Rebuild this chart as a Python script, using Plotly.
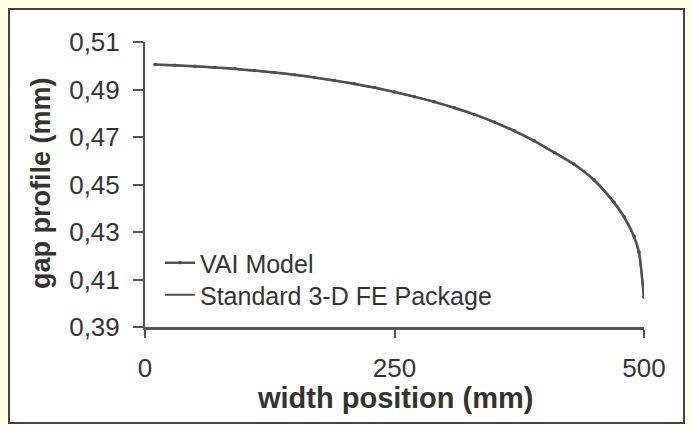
import plotly.graph_objects as go

# Data
width_vai = [10, 30, 50, 70, 90, 110, 130, 150, 170, 190, 210, 230, 250, 270, 290,
             310, 330, 350, 370, 390, 410, 430, 450, 470, 480, 490, 495, 500]
gap_vai = [0.5005, 0.5002, 0.4998, 0.4993, 0.4987, 0.4980, 0.4972, 0.4962, 0.4951,
           0.4938, 0.4924, 0.4908, 0.4890, 0.4870, 0.4848, 0.4823, 0.4795, 0.4763,
           0.4726, 0.4684, 0.4635, 0.4585, 0.4519, 0.4425, 0.4365, 0.4282, 0.4215, 0.4025]

width_fe = [10, 30, 50, 70, 90, 110, 130, 150, 170, 190, 210, 230, 250, 270, 290,
            310, 330, 350, 370, 390, 410, 430, 450, 470, 480, 490, 495, 500]
gap_fe = [0.5004, 0.5001, 0.4997, 0.4992, 0.4986, 0.4979, 0.4971, 0.4961, 0.4950,
          0.4937, 0.4923, 0.4907, 0.4889, 0.4869, 0.4847, 0.4822, 0.4794, 0.4762,
          0.4725, 0.4683, 0.4634, 0.4584, 0.4517, 0.4422, 0.4362, 0.4278, 0.4210, 0.4020]

x_ticks = [0, 250, 500]
y_ticks = [0.39, 0.41, 0.43, 0.45, 0.47, 0.49, 0.51]
y_tick_text = ["0,39", "0,41", "0,43", "0,45", "0,47", "0,49", "0,51"]

FONT = "Liberation Sans, Arial, sans-serif"
AX = "#555555"
TXT = "#333333"
BG = "#FFFEE4"

fig = go.Figure()
fig.add_trace(go.Scatter(x=width_vai, y=gap_vai, name="VAI Model", mode="lines+markers",
                         line=dict(color="#555555", width=2.5, shape="spline", smoothing=0.6),
                         marker=dict(size=3.5, color="#444444"), legend="legend"))
fig.add_trace(go.Scatter(x=width_fe, y=gap_fe, name="Standard 3-D FE Package", mode="lines",
                         line=dict(color="#505050", width=2, shape="spline", smoothing=0.6),
                         legend="legend2"))

L, T = 145, 42
W, H = 691, 425
pw, ph = 644 - 145, 327 - 42

def px(x):
    return (x - L) / pw

def py(y):
    return (327 - y) / ph

leg_common = dict(xanchor="left", yanchor="middle", bgcolor="rgba(0,0,0,0)",
                  borderwidth=0, font=dict(family=FONT, size=25, color=TXT),
                  itemwidth=30)

fig.update_layout(
    width=W, height=H,
    margin=dict(l=L, r=W - 644, t=T, b=H - 327),
    paper_bgcolor=BG,
    plot_bgcolor="white",
    font=dict(family=FONT, color=TXT, size=24),
    showlegend=True,
    legend=dict(x=px(160), y=py(263), **leg_common),
    legend2=dict(x=px(160), y=py(295), **leg_common),
    xaxis=dict(range=[0, 500], tickvals=x_ticks, ticks="outside", ticklen=8,
               tickwidth=2, tickcolor=AX, showline=True, linecolor=AX, linewidth=3,
               showgrid=False, zeroline=False, ticklabelstandoff=8, automargin=False,
               tickfont=dict(family=FONT, size=26, color=TXT)),
    yaxis=dict(range=[0.39, 0.51], tickvals=y_ticks, ticktext=y_tick_text,
               ticks="outside", ticklen=10, tickwidth=2, tickcolor=AX,
               showline=True, linecolor=AX, linewidth=2, showgrid=False,
               zeroline=False, ticklabelstandoff=8, automargin=False,
               tickfont=dict(family=FONT, size=26, color=TXT)),
    shapes=[dict(type="rect", xref="paper", yref="paper", layer="below",
                 x0=px(9), x1=px(684), y0=py(423), y1=py(9),
                 fillcolor="white", line=dict(color="#444444", width=2))],
    annotations=[
        dict(text="<b>width position (mm)</b>", xref="paper", yref="paper",
             x=px(395), y=py(398), xanchor="center", yanchor="middle",
             showarrow=False, font=dict(family=FONT, size=29, color=TXT)),
        dict(text="<b>gap profile (mm)</b>", xref="paper", yref="paper",
             x=px(41), y=py(183), xanchor="center", yanchor="middle",
             textangle=-90, showarrow=False,
             font=dict(family=FONT, size=27, color=TXT)),
    ],
)

fig.write_html("out.html", config={"displayModeBar": False},
               post_script="document.body.style.margin='0';document.body.style.background='%s';" % BG)
